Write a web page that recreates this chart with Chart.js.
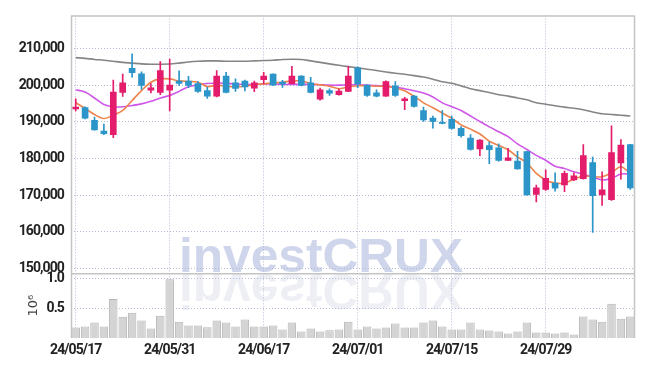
<!DOCTYPE html>
<html>
<head>
<meta charset="utf-8">
<script src="https://cdn.jsdelivr.net/npm/chart.js@4.4.1/dist/chart.umd.min.js"></script>
<style>
  html, body { margin: 0; padding: 0; background: #fff; }
  #wrap { width: 645px; height: 366px; position: relative; }
</style>
</head>
<body>
<div id="wrap"><canvas id="stockChart"></canvas></div>
<script>
const DATES = [
  "24/05/17","24/05/20","24/05/21","24/05/22","24/05/23","24/05/24","24/05/27","24/05/28","24/05/29","24/05/30",
  "24/05/31","24/06/03","24/06/04","24/06/05","24/06/07","24/06/10","24/06/11","24/06/12","24/06/13","24/06/14",
  "24/06/17","24/06/18","24/06/19","24/06/20","24/06/21","24/06/24","24/06/25","24/06/26","24/06/27","24/06/28",
  "24/07/01","24/07/02","24/07/03","24/07/04","24/07/05","24/07/08","24/07/09","24/07/10","24/07/11","24/07/12",
  "24/07/15","24/07/16","24/07/17","24/07/18","24/07/19","24/07/22","24/07/23","24/07/24","24/07/25","24/07/26",
  "24/07/29","24/07/30","24/07/31","24/08/01","24/08/02","24/08/05","24/08/06","24/08/07","24/08/08","24/08/09"
];
const OPEN = [
  193500,193900,190400,187500,186500,198000,204600,203100,198600,198000,
  198600,201100,201100,200400,198500,197000,202500,200600,201100,199200,
  201500,203000,200800,200400,202500,200600,196200,198500,197400,198300,
  204700,200000,197900,197000,199800,195800,197000,193100,191000,189900,
  190700,188200,185600,182600,183500,182900,179500,179300,181900,170200,
  171600,173300,172800,174200,174500,178900,170100,168800,178800,183800
];
const HIGH = [
  196300,194100,191300,189400,201400,203000,208500,203600,200400,206400,
  207100,203900,202400,201000,199500,204000,203500,201700,201400,201100,
  203500,203100,201300,205100,202600,202100,199200,199000,198900,205100,
  205000,200100,198700,201200,201000,196700,197200,194000,191600,193100,
  191600,188700,186500,185200,184500,184000,182800,182000,182000,172800,
  176900,176100,176600,176100,183800,180400,176400,188900,185200,183900
];
const LOW = [
  193000,190800,187700,186500,185700,196900,202200,198800,197900,197400,
  193000,199900,199300,198000,196400,196800,197900,198300,198400,198200,
  200400,199900,199400,200300,199800,197900,195900,197200,197300,198200,
  199300,196900,196800,196900,196900,193300,194000,190100,188300,189400,
  188000,185800,182300,180800,178600,179300,179500,177100,170000,168200,
  171300,171100,171000,174000,174400,159900,167200,168600,174400,171600
];
const CLOSE = [
  194000,191000,187800,186800,198100,200600,203400,199900,199300,204000,
  200000,200500,199900,198300,197000,202500,198000,199100,199500,200600,
  202500,200000,200300,202500,199900,198000,198700,197800,198400,202500,
  200300,197200,197000,201000,197200,196300,194200,190500,190100,189600,
  188200,186200,182500,185000,182400,179500,180200,177200,170100,172000,
  174600,171900,176000,175300,180800,169900,171500,181600,183700,172000
];
// moving averages
const MA_SHORT = [
  195200,193650,192000,190900,191800,193100,195800,198500,200800,201700,
  201700,201150,201000,200800,199600,200000,199700,199550,199700,200100,
  200350,200600,200800,201150,201150,200430,200080,199700,199000,199550,
  199850,199850,199700,199700,199200,198500,196950,195170,193840,192400,
  190970,189180,188020,186700,184720,183550,182400,180440,178830,175960,
  174170,173300,173300,174350,175240,175060,175060,176150,177750,175960
];
const MA_MID = [
  198740,198120,196500,194700,194100,194100,194450,194900,195600,196500,
  197200,198300,199550,200080,200430,200600,200500,200300,200200,200200,
  200300,200300,200200,200200,200200,200200,200100,200000,200000,200100,
  200100,200000,199900,199700,199500,199000,198470,197860,196780,195170,
  194100,193100,191600,190080,188640,187300,185960,184000,182470,180860,
  179520,177900,177300,176400,175770,174900,174170,174600,175770,175770
];
const MA_LONG = [
  207500,207300,207000,206800,206500,206200,206000,205800,205700,205700,
  205750,206000,206300,206500,206600,206600,206500,206500,206500,206600,
  206700,206800,207000,207050,207000,206600,206200,205800,205400,205050,
  204700,204350,204000,203600,203250,202950,202600,202200,201600,200900,
  200500,199800,199000,198500,198000,197400,197000,196500,196000,195200,
  194800,194400,194000,193700,193300,192700,192200,192000,191800,191600
];
// volume in millions of shares
const VOLUME = [
  0.175,0.19,0.26,0.19,0.65,0.355,0.42,0.29,0.16,0.37,
  0.98,0.27,0.21,0.21,0.18,0.29,0.26,0.19,0.31,0.19,
  0.19,0.21,0.14,0.26,0.11,0.16,0.11,0.13,0.14,0.27,
  0.14,0.19,0.16,0.175,0.24,0.175,0.175,0.26,0.29,0.19,
  0.14,0.14,0.26,0.14,0.125,0.11,0.077,0.11,0.26,0.093,
  0.093,0.077,0.093,0.06,0.36,0.31,0.27,0.57,0.32,0.36
];
const PRICE_TICKS = [150000,160000,170000,180000,190000,200000,210000];
const VOLUME_TICKS = [0.5, 1.0];

const UP = '#e31c6b';
const DOWN = '#2b94c8';
const GRID = '#b4b9d4';
const TICK_FONT = { family: "Roboto, 'Liberation Sans', sans-serif", size: 14, weight: 'bold' };

const candleColors = CLOSE.map((c, i) => c >= OPEN[i] ? UP : DOWN);

// watermark under the grid, then tighten tick text
const watermark = {
  id: 'watermark',
  beforeDraw(chart) {
    const ctx = chart.ctx;
    const base = chart.scales.y.bottom - 1;
    ctx.save();
    ctx.font = "bold 48px 'Liberation Sans', Arial, sans-serif";
    ctx.textAlign = 'center';
    ctx.textBaseline = 'alphabetic';
    const w = ctx.measureText('investCRUX').width;
    ctx.translate(321, base);
    ctx.scale(284 / w, 1);
    ctx.fillStyle = 'rgba(178,188,222,0.62)';
    ctx.fillText('investCRUX', 0, 0);
    ctx.scale(1, -1.05);
    ctx.fillStyle = 'rgba(205,208,226,0.35)';
    ctx.fillText('investCRUX', 0, -2);
    ctx.restore();
    ctx.letterSpacing = '-0.9px';
  },
  afterDraw(chart) {
    chart.ctx.letterSpacing = '0px';
  }
};

// panel borders + exponent label
const frame = {
  id: 'frame',
  afterDatasetsDraw(chart) {
    const ctx = chart.ctx;
    const a = chart.chartArea;
    const yv = chart.scales.yv;
    ctx.save();
    ctx.letterSpacing = '0px';
    ctx.strokeStyle = '#c4c4c4';
    ctx.lineWidth = 1.5;
    ctx.beginPath();
    ctx.moveTo(a.left + 0.5, a.bottom);
    ctx.lineTo(a.left + 0.5, a.top + 0.5);
    ctx.lineTo(a.right - 0.5, a.top + 0.5);
    ctx.lineTo(a.right - 0.5, a.bottom);
    ctx.stroke();
    ctx.beginPath();
    ctx.moveTo(a.left, yv.top + 0.5);
    ctx.lineTo(a.right, yv.top + 0.5);
    ctx.stroke();
    ctx.translate(34, (yv.top + yv.bottom) / 2);
    ctx.rotate(-Math.PI / 2);
    ctx.fillStyle = '#444';
    ctx.textAlign = 'center';
    ctx.textBaseline = 'middle';
    ctx.font = "13px 'DejaVu Sans', sans-serif";
    ctx.fillText('10\u2076', 0, 0);
    ctx.restore();
  }
};

const ctx = document.getElementById('stockChart').getContext('2d');
new Chart(ctx, {
  data: {
    labels: DATES,
    datasets: [
      { type: 'bar', label: 'body', data: OPEN.map((o, i) => [o, CLOSE[i]]), backgroundColor: candleColors,
        barThickness: 6, grouped: false, yAxisID: 'y', order: 0 },
      { type: 'bar', label: 'wick', data: LOW.map((l, i) => [l, HIGH[i]]), backgroundColor: candleColors,
        barThickness: 1, grouped: false, yAxisID: 'y', order: 1 },
      { type: 'line', label: 'MA short', data: MA_SHORT, borderColor: '#ee844c', borderWidth: 1.6,
        pointRadius: 0, tension: 0.3, yAxisID: 'y', order: 2 },
      { type: 'line', label: 'MA mid', data: MA_MID, borderColor: '#cf57e8', borderWidth: 1.6,
        pointRadius: 0, tension: 0.3, yAxisID: 'y', order: 3 },
      { type: 'line', label: 'MA long', data: MA_LONG, borderColor: '#858585', borderWidth: 1.6,
        pointRadius: 0, tension: 0.3, yAxisID: 'y', order: 4 },
      { type: 'bar', label: 'volume', data: VOLUME, backgroundColor: '#d4d4d4', borderColor: '#b5b5b5',
        borderWidth: 1, barPercentage: 0.9, categoryPercentage: 1, grouped: false, yAxisID: 'yv', order: 5 }
    ]
  },
  options: {
    responsive: true, maintainAspectRatio: false, animation: false,
    layout: { padding: { top: 9, right: 10, left: 0, bottom: 0 } },
    plugins: { legend: { display: false }, tooltip: { enabled: false } },
    scales: {
      x: {
        offset: true,
        border: { display: false, dash: [1, 2] },
        grid: {
          offset: false, drawTicks: false, lineWidth: 1,
          color: c => (c.index % 10 === 0 ? GRID : 'rgba(0,0,0,0)')
        },
        ticks: {
          autoSkip: false, maxRotation: 0, padding: 4, color: '#222', font: TICK_FONT,
          callback: (v, i) => (i % 10 === 0 ? DATES[i] : '')
        },
        afterFit: s => { s.height = 28; }
      },
      yv: {
        position: 'left', stack: 'main', stackWeight: 66,
        min: 0, max: 1.08,
        border: { display: false, dash: [1, 2] },
        grid: { color: GRID, drawTicks: false },
        ticks: { padding: 7, color: '#222', font: TICK_FONT, callback: v => v.toFixed(1) },
        afterBuildTicks: s => { s.ticks = VOLUME_TICKS.map(v => ({ value: v })); },
        afterFit: s => { s.width = 71; }
      },
      y: {
        position: 'left', stack: 'main', stackWeight: 263,
        min: 148740, max: 219000,
        border: { display: false, dash: [1, 2] },
        grid: { color: GRID, drawTicks: false },
        ticks: { padding: 7, color: '#222', font: TICK_FONT,
          callback: v => v.toLocaleString('en-US') },
        afterBuildTicks: s => { s.ticks = PRICE_TICKS.map(v => ({ value: v })); },
        afterFit: s => { s.width = 71; }
      }
    }
  },
  plugins: [watermark, frame]
});
</script>
</body>
</html>
